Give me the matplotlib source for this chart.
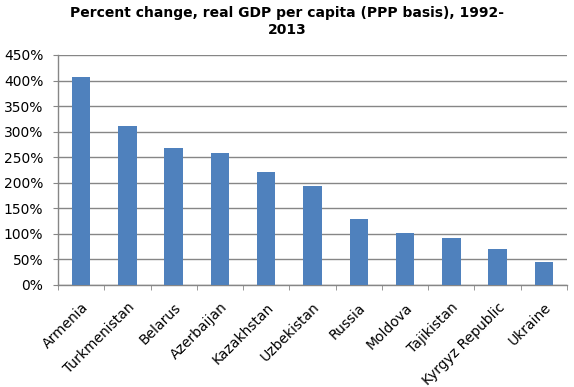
import matplotlib
matplotlib.use("Agg")
import matplotlib.pyplot as plt
import numpy as np
from matplotlib.ticker import FuncFormatter, MultipleLocator, FixedLocator

countries = ["Armenia", "Turkmenistan", "Belarus", "Azerbaijan", "Kazakhstan",
             "Uzbekistan", "Russia", "Moldova", "Tajikistan", "Kyrgyz Republic", "Ukraine"]
pct_change = [406, 311, 268, 258, 221, 194, 129, 101, 92, 70, 45]

W, H = 574, 387
fig = plt.figure(figsize=(W/100, H/100), dpi=100)
left, right, top, bottom = 58, 567, 55, 285
ax = fig.add_axes([left/W, 1-bottom/H, (right-left)/W, (bottom-top)/H])

grid_c = "#868686"
x = np.arange(len(countries))
ax.bar(x, pct_change, width=0.4, color="#4F81BD", zorder=3)
ax.set_xlim(-0.5, len(countries)-0.5)
ax.set_ylim(0, 450)
ax.yaxis.set_major_locator(MultipleLocator(50))
ax.yaxis.set_major_formatter(FuncFormatter(lambda v, p: f"{int(v)}%"))
ax.grid(axis="y", color=grid_c, linewidth=1, zorder=0)
for s in ["top", "right"]:
    ax.spines[s].set_visible(False)
for s in ["left", "bottom"]:
    ax.spines[s].set_color(grid_c)
    ax.spines[s].set_linewidth(1)

ax.set_xticks(x)
ax.set_xticklabels(countries, rotation=45, ha="right", rotation_mode="anchor", fontsize=10)
ax.tick_params(axis="x", length=0, pad=11)
ax.xaxis.set_minor_locator(FixedLocator(np.arange(-0.5, len(countries), 1)))
ax.tick_params(axis="x", which="minor", length=3.6, color=grid_c, direction="out")
ax.tick_params(axis="y", length=3.6, color=grid_c, labelsize=10, pad=7)

fig.text(0.5, 1-6/H, "Percent change, real GDP per capita (PPP basis), 1992-\n2013",
         ha="center", va="top", fontsize=10, fontweight="bold", linespacing=1.3)

fig.savefig("out.png", dpi=100)
